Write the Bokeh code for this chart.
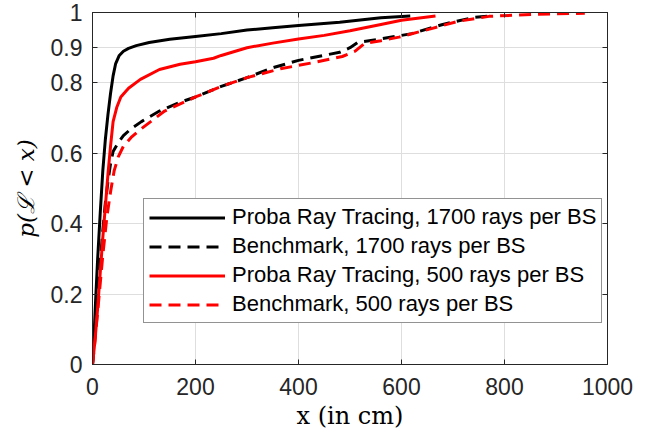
import math
from bokeh.plotting import figure
from bokeh.models import FixedTicker, LinearAxis, Range1d
from bokeh.embed import file_html
from bokeh.resources import INLINE

# ---- data ----
x_ticks = [0, 200, 400, 600, 800, 1000]
x_tick_labels = ["0", "200", "400", "600", "800", "1000"]
y_ticks = [0, 0.2, 0.4, 0.6, 0.8, 0.9, 1]
y_tick_labels = ["0", "0.2", "0.4", "0.6", "0.8", "0.9", "1"]

proba1700_x = [0, 3, 6, 10, 15, 20, 25, 30, 35, 40, 45, 52, 60, 70, 85, 110, 150, 200, 250, 300, 350, 400, 480, 560, 617]
proba1700_y = [0, 0.08, 0.18, 0.30, 0.43, 0.55, 0.64, 0.71, 0.77, 0.82, 0.855, 0.878, 0.89, 0.898, 0.906, 0.915, 0.924, 0.932, 0.94, 0.95, 0.957, 0.963, 0.972, 0.985, 0.99]

bench1700_x = [0, 5, 10, 15, 20, 25, 30, 35, 40, 50, 60, 75, 95, 130, 170, 200, 250, 300, 350, 400, 480, 500, 515, 560, 620, 680, 740, 770]
bench1700_y = [0, 0.09, 0.19, 0.29, 0.38, 0.46, 0.52, 0.57, 0.605, 0.63, 0.65, 0.67, 0.69, 0.72, 0.745, 0.76, 0.79, 0.815, 0.843, 0.864, 0.887, 0.90, 0.915, 0.925, 0.94, 0.966, 0.986, 0.99]

proba500_x = [0, 5, 10, 15, 20, 25, 30, 35, 40, 47, 55, 70, 93, 130, 170, 200, 235, 250, 300, 350, 400, 450, 500, 560, 600, 666]
proba500_y = [0, 0.07, 0.16, 0.26, 0.36, 0.45, 0.54, 0.62, 0.69, 0.73, 0.76, 0.785, 0.81, 0.838, 0.853, 0.86, 0.87, 0.878, 0.90, 0.913, 0.925, 0.935, 0.948, 0.966, 0.978, 0.99]

bench500_x = [0, 5, 10, 15, 20, 28, 35, 42, 50, 60, 75, 95, 140, 200, 250, 300, 365, 430, 485, 510, 528, 560, 595, 660, 710, 770, 860, 956]
bench500_y = [0, 0.07, 0.15, 0.23, 0.31, 0.42, 0.49, 0.55, 0.59, 0.62, 0.645, 0.67, 0.72, 0.76, 0.79, 0.815, 0.84, 0.858, 0.875, 0.89, 0.912, 0.92, 0.93, 0.955, 0.975, 0.989, 0.995, 0.998]

labels = ["Proba Ray Tracing, 1700 rays per BS",
          "Benchmark, 1700 rays per BS",
          "Proba Ray Tracing, 500 rays per BS",
          "Benchmark, 500 rays per BS"]
x_label = "x (in cm)"
y_label = "p(ℒ < x)"

AX = "#262626"
TICK_FONT = "Liberation Sans"

p = figure(width=646, height=435, x_range=Range1d(0, 1000), y_range=Range1d(0, 1),
           output_backend="svg", toolbar_location=None,
           min_border_left=92, min_border_right=39, min_border_top=12, min_border_bottom=71)
p.background_fill_color = "white"
p.border_fill_color = "white"
p.outline_line_color = AX
p.outline_line_width = 1

for ax, ticks, labs in ((p.xaxis[0], x_ticks, x_tick_labels), (p.yaxis[0], y_ticks, y_tick_labels)):
    ax.ticker = FixedTicker(ticks=ticks)
    ax.major_label_overrides = {t: l for t, l in zip(ticks, labs)}
    ax.major_tick_in = 5
    ax.major_tick_out = 0
    ax.minor_tick_line_color = None
    ax.axis_line_color = AX
    ax.major_tick_line_color = AX
    ax.major_label_text_color = AX
    ax.major_label_text_font = TICK_FONT
    ax.major_label_text_font_size = "23px"
    ax.axis_label_text_font = "DejaVu Serif"
    ax.axis_label_text_color = "black"
p.xaxis[0].major_label_standoff = 13
p.yaxis[0].major_label_standoff = 10

p.xaxis[0].axis_label = x_label
p.xaxis[0].axis_label_text_font_style = "normal"
p.xaxis[0].axis_label_text_font_size = "24px"
p.xaxis[0].axis_label_standoff = 4

p.yaxis[0].axis_label = y_label
p.yaxis[0].axis_label_text_font_style = "italic"
p.yaxis[0].axis_label_text_font_size = "23px"
p.yaxis[0].axis_label_standoff = 9

# box ticks on top and right
for loc, ticks in (("above", x_ticks), ("right", y_ticks)):
    a = LinearAxis(ticker=FixedTicker(ticks=ticks),
                   major_label_overrides={t: "" for t in ticks},
                   major_tick_in=5, major_tick_out=0, minor_tick_line_color=None,
                   axis_line_color=AX, major_tick_line_color=AX,
                   major_label_standoff=0, major_label_text_font_size="1px")
    p.add_layout(a, loc)

p.xgrid.ticker = FixedTicker(ticks=x_ticks)
p.ygrid.ticker = FixedTicker(ticks=y_ticks)
p.xgrid.grid_line_color = "#dedede"
p.ygrid.grid_line_color = "#dedede"

W = 3
DASH = "12 7"
p.line(proba1700_x, proba1700_y, color="black", line_width=W, legend_label=labels[0])
p.line(bench1700_x, bench1700_y, color="black", line_width=W, line_dash=DASH, legend_label=labels[1])
p.line(proba500_x, proba500_y, color="#ff0000", line_width=W, legend_label=labels[2])
p.line(bench500_x, bench500_y, color="#ff0000", line_width=W, line_dash=DASH, legend_label=labels[3])

lg = p.legend[0]
lg.location = (51, 41)
lg.label_text_font = TICK_FONT
lg.label_text_font_size = "22px"
lg.label_text_color = "black"
lg.label_height = 25
lg.glyph_height = 25
lg.glyph_width = 76
lg.label_standoff = 7
lg.spacing = 3
lg.padding = 5
lg.margin = 0
lg.border_line_color = AX
lg.border_line_width = 1
lg.background_fill_color = "white"
lg.background_fill_alpha = 1

open("out.html", "w").write(file_html(p, INLINE))
